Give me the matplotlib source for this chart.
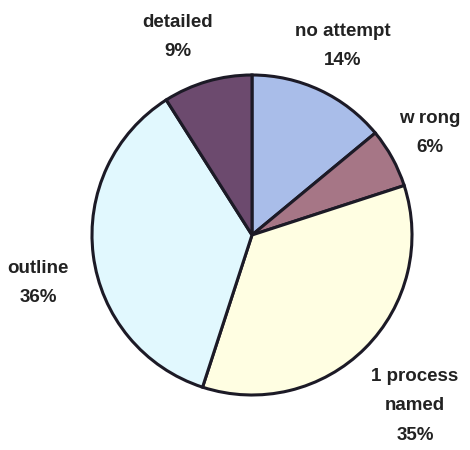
import matplotlib.pyplot as plt

# survey answers, clockwise from 12 o'clock
categories = ['no attempt', 'w rong', '1 process\nnamed', 'outline', 'detailed']
percent = [14, 6, 35, 36, 9]
COLORS = ['#a9bde9', '#a67686', '#fffee2', '#e1f8fe', '#6c4a6e']

# where each label sits, in pixel-like coords (y measured from bottom)
label_pos = [(343, 404), (430, 317), (415, 44), (38, 167), (178, 413)]

figure = plt.figure(figsize=(4.7, 4.5), dpi=100)
ax = figure.add_axes([0, 0, 1, 1])

wedges, texts = ax.pie(
    percent, colors=COLORS, startangle=90, counterclock=False,
    center=(252, 215), radius=160, frame=True,
    labels=['{}\n{}%'.format(c, p) for c, p in zip(categories, percent)],
    wedgeprops=dict(edgecolor='#1c1a26', linewidth=2.2),
    textprops=dict(fontsize=13.5, fontweight='bold', color='#222222',
                   family='Liberation Sans', linespacing=1.95),
)
ax.set_xlim(0, 470)
ax.set_ylim(0, 450)
ax.set_aspect('equal')
ax.axis('off')

for t, (x, y) in zip(texts, label_pos):
    t.set_position((x, y))
    t.set_ha('center')
    t.set_va('center')

figure.savefig('out.png', dpi=100)
